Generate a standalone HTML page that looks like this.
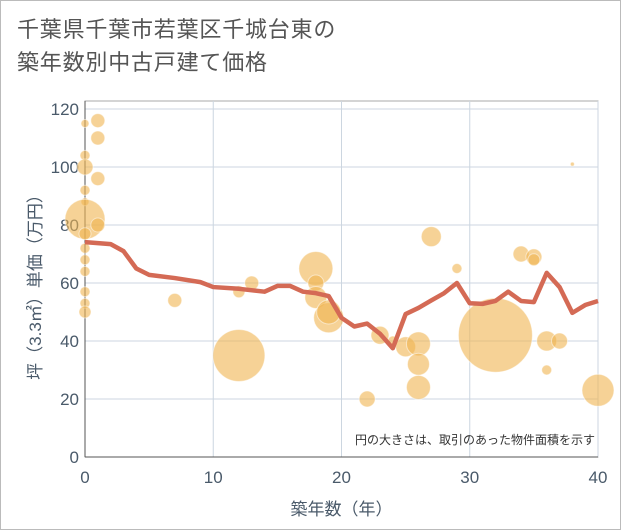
<!DOCTYPE html>
<html><head><meta charset="utf-8"><style>
body{margin:0;background:#fff;font-family:"Liberation Sans","Noto Sans CJK JP",sans-serif}
#wrap{position:relative;width:619px;height:528px;border:1px solid #bbb;overflow:hidden;background:#fff}
#title{position:absolute;left:16px;top:12px;font-size:22px;line-height:33px;color:#555;letter-spacing:0.8px}
svg{position:absolute;left:0;top:0}
text{font-family:"Liberation Sans","Noto Sans CJK JP",sans-serif}
</style></head><body>
<div id="wrap">
<div id="title">千葉県千葉市若葉区千城台東の<br>築年数別中古戸建て価格</div>
<svg id="chart" width="621" height="530"></svg>
</div>
<script>
const xTicks=[0,10,20,30,40];
const yTicks=[0,20,40,60,80,100,120];
const lineYears=[0,2,3,4,5,7,9,10,12,14,15,16,17,18,19,20,21,22,23,24,25,26,27,28,29,30,31,32,33,34,35,36,37,38,39,40];
const lineValues=[74.1,73.4,71,65,62.8,61.7,60.3,58.6,58,57,59,59,57,56.5,55.5,48,45,46,42.5,37.5,49.3,51.4,54,56.5,60,53,52.8,53.8,57,53.8,53.4,63.5,58.6,49.7,52.4,53.8];
const bubbleYears=[0,1,1,0,0,1,0,0,0,1,0,0,0,0,0,0,0,7,12,13,12,18,18,18,19,19,22,23,24,25,26,26,26,27,29,32,34,35,35,36,37,36,38,40];
const bubbleValues=[115,116,110,104,100,96,92,88,82,80,77,72,68,64,57,53,50,54,57,60,35,65,60,55,48,50,20,42,40,38,39,32,24,76,65,42,70,69,68,40,40,30,101,23];
const bubbleSizes=[4,7,7,5,8,7,5,4,20,7,6,5,5,5,5,5,6,7,6,7,26,17,8,11,15,12,8,9,5,10,12,11,12,10,5,37,8,8,6,10,8,5,2,16];
const X0=84,X1=597,Y0=456,Y1=108;
const sx=v=>X0+(v-0)/(40-0)*(X1-X0);
const sy=v=>Y0-(v-0)/(120-0)*(Y0-Y1);
const svg=document.getElementById('chart');
const NS='http://www.w3.org/2000/svg';
function mk(t,a){const e=document.createElementNS(NS,t);for(const k in a)e.setAttribute(k,a[k]);svg.appendChild(e);return e;}
const fr=mk('rect',{x:X0,y:Y1-8,width:X1-X0,height:Y0-Y1+8,fill:'none',stroke:'#aaa','stroke-width':1});

xTicks.forEach(t=>{const l=mk('line',{x1:sx(t),x2:sx(t),y1:Y1-8,y2:Y0,stroke:'#ccd6e0','stroke-width':1});

const tx=mk('text',{x:sx(t),y:Y0+26,'text-anchor':'middle','font-size':17,fill:'#4a5a6a'});tx.textContent=t;
});
yTicks.forEach(t=>{const l=mk('line',{x1:X0,x2:X1,y1:sy(t),y2:sy(t),stroke:'#ccd6e0','stroke-width':1});

const tx=mk('text',{x:X0-6,y:sy(t)+6,'text-anchor':'end','font-size':17,fill:'#4a5a6a'});tx.textContent=t;
});
const ax=mk('line',{x1:X0,x2:X0,y1:Y1-8,y2:Y0,stroke:'#555','stroke-width':1});

const ax2=mk('line',{x1:X0,x2:X1,y1:Y0,y2:Y0,stroke:'#555','stroke-width':1});

bubbleYears.forEach((y,i)=>{const c=mk('circle',{cx:sx(y),cy:sy(bubbleValues[i]),r:bubbleSizes[i],fill:'rgba(240,180,80,0.6)',stroke:'rgba(255,255,255,0.5)','stroke-width':1});
});
const p=mk('polyline',{points:lineYears.map((y,i)=>sx(y)+','+sy(lineValues[i])).join(' '),fill:'none',stroke:'#d46a55','stroke-width':4.5,'stroke-linejoin':'round'});

const n=mk('text',{x:594,y:443,'text-anchor':'end','font-size':12,fill:'#333'});n.textContent='円の大きさは、取引のあった物件面積を示す';

const xt=mk('text',{x:sx(20),y:514,'text-anchor':'middle','font-size':17,fill:'#4a5a6a'});xt.textContent='築年数（年）';

const yt=mk('text',{x:0,y:0,'text-anchor':'middle','font-size':17,fill:'#4a5a6a',transform:'translate(40,'+sy(60)+') rotate(-90)'});yt.textContent='坪（3.3㎡）単価（万円）';

</script>
</body></html>
